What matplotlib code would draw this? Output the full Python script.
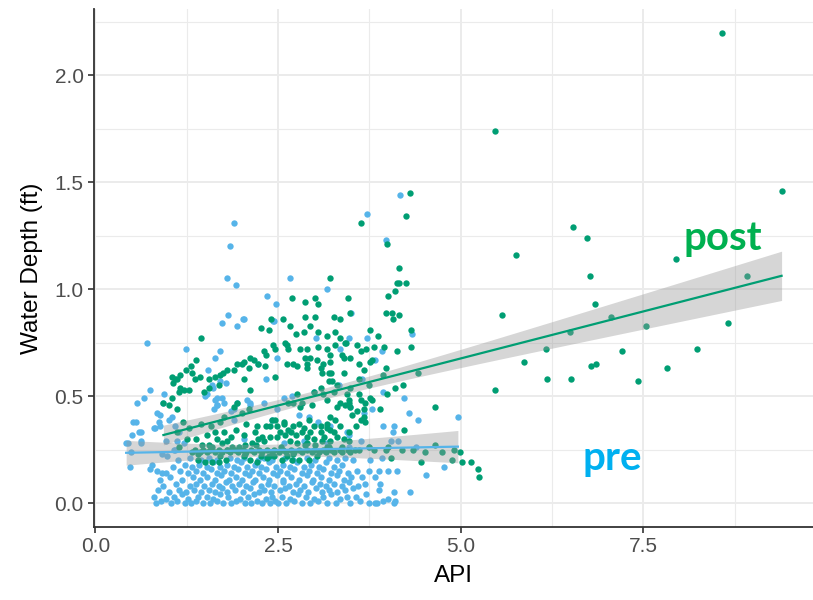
import matplotlib
matplotlib.use("Agg")
import matplotlib.pyplot as plt
import numpy as np

plt.rcParams["font.family"] = ["Liberation Sans", "DejaVu Sans"]

# ---- data (API, water depth in ft) ----
pre_low = [
    (0.83, 0.00), (0.90, 0.01), (1.04, 0.00), (1.12, 0.01), (1.22, 0.00), (1.31, 0.00), (1.37, 0.01), (1.47, 0.00),
    (1.57, 0.00), (1.66, 0.01), (1.75, 0.00), (1.86, 0.00), (1.93, 0.01), (2.04, 0.00), (2.13, 0.00), (2.21, 0.01),
    (2.28, 0.00), (2.39, 0.00), (2.46, 0.01), (2.50, 0.00), (2.61, 0.00), (2.72, 0.01), (2.82, 0.00), (2.93, 0.00),
    (3.05, 0.01), (3.17, 0.00), (3.29, 0.00), (3.49, 0.00), (3.62, 0.01),
    (0.80, 0.03), (0.97, 0.02), (1.08, 0.03), (1.18, 0.04), (1.27, 0.02), (1.40, 0.03), (1.52, 0.03), (1.61, 0.02),
    (1.70, 0.04), (1.82, 0.03), (1.98, 0.02), (2.09, 0.03), (2.17, 0.04), (2.33, 0.02), (2.42, 0.03), (2.55, 0.03),
    (2.66, 0.02), (2.77, 0.04), (2.88, 0.03), (2.99, 0.02), (3.12, 0.03), (3.22, 0.04), (3.35, 0.02), (3.44, 0.03),
    (3.56, 0.03), (3.70, 0.04),
    (0.85, 0.06), (1.01, 0.05), (1.15, 0.06), (1.24, 0.05), (1.35, 0.06), (1.45, 0.05), (1.55, 0.06), (1.64, 0.05),
    (1.73, 0.07), (1.80, 0.05), (1.91, 0.06), (2.02, 0.05), (2.11, 0.07), (2.24, 0.05), (2.31, 0.06), (2.40, 0.05),
    (2.52, 0.06), (2.59, 0.07), (2.70, 0.05), (2.80, 0.06), (2.91, 0.05), (3.02, 0.07), (3.10, 0.05), (3.20, 0.06),
    (3.31, 0.05), (3.41, 0.06), (3.52, 0.07),
    (0.93, 0.08), (1.10, 0.09), (1.29, 0.08), (1.38, 0.09), (1.49, 0.08), (1.60, 0.09), (1.69, 0.08), (1.78, 0.10),
    (1.87, 0.08), (1.96, 0.09), (2.06, 0.08), (2.15, 0.10), (2.27, 0.08), (2.36, 0.09), (2.44, 0.08), (2.56, 0.10),
    (2.65, 0.08), (2.75, 0.09), (2.85, 0.08), (2.96, 0.10), (3.07, 0.09), (3.15, 0.08), (3.26, 0.09), (3.37, 0.08),
    (3.47, 0.10), (3.59, 0.08),
    (0.88, 0.11), (1.02, 0.12), (1.19, 0.11), (1.33, 0.12), (1.43, 0.11), (1.53, 0.12), (1.63, 0.11), (1.72, 0.13),
    (1.83, 0.11), (1.93, 0.12), (2.00, 0.11), (2.10, 0.13), (2.19, 0.11), (2.29, 0.12), (2.38, 0.11), (2.48, 0.13),
    (2.57, 0.11), (2.68, 0.12), (2.78, 0.11), (2.89, 0.13), (2.98, 0.11), (3.09, 0.12), (3.19, 0.11), (3.30, 0.13),
    (3.40, 0.11), (3.50, 0.12),
    (0.97, 0.14), (1.16, 0.15), (1.27, 0.14), (1.38, 0.15), (1.47, 0.14), (1.58, 0.16), (1.67, 0.14), (1.76, 0.15),
    (1.85, 0.14), (1.95, 0.16), (2.05, 0.14), (2.14, 0.15), (2.24, 0.14), (2.33, 0.16), (2.43, 0.14), (2.53, 0.15),
    (2.62, 0.14), (2.72, 0.16), (2.82, 0.14), (2.92, 0.15), (3.03, 0.14), (3.12, 0.16), (3.23, 0.14), (3.33, 0.15),
    (3.45, 0.14),
    (1.06, 0.17), (1.22, 0.18), (1.32, 0.17), (1.42, 0.18), (1.52, 0.17), (1.61, 0.19), (1.71, 0.17), (1.80, 0.18),
    (1.90, 0.17), (1.99, 0.19), (2.08, 0.17), (2.18, 0.18), (2.27, 0.17), (2.37, 0.19), (2.47, 0.17), (2.56, 0.18),
    (2.66, 0.17), (2.76, 0.19), (2.86, 0.17), (2.95, 0.18), (3.06, 0.17), (3.16, 0.19), (3.26, 0.17), (3.38, 0.18),
    (1.13, 0.20), (1.29, 0.21), (1.45, 0.20), (1.56, 0.21), (1.66, 0.20), (1.84, 0.21), (1.94, 0.20), (2.03, 0.21),
    (2.22, 0.20), (2.31, 0.21), (2.41, 0.20), (2.60, 0.21), (2.70, 0.20), (2.89, 0.21), (3.00, 0.20), (3.20, 0.21),
    (3.30, 0.20), (3.42, 0.21), (3.52, 0.20),
    (3.76, 0.20), (3.92, 0.21), (3.58, 0.15), (3.65, 0.12), (3.69, 0.09), (3.74, 0.15), (3.88, 0.15), (3.90, 0.09),
    (3.88, 0.06), (4.01, 0.15), (4.13, 0.15), (3.83, 0.12), (4.31, 0.05), (4.09, 0.05), (4.01, 0.02), (3.94, 0.01),
    (3.83, 0.00), (3.74, 0.00), (4.09, 0.00), (3.85, 0.00), (4.10, 0.01),
]

pre_mid = [
    (0.75, 0.53), (0.57, 0.47), (0.67, 0.49), (0.94, 0.51), (0.93, 0.47), (0.52, 0.38), (0.50, 0.32), (0.59, 0.33),
    (0.62, 0.29), (0.42, 0.28), (0.82, 0.35), (0.89, 0.41), (0.88, 0.36), (1.00, 0.39), (1.05, 0.40),
    (1.60, 0.55), (1.64, 0.48), (1.67, 0.46), (1.73, 0.49), (1.76, 0.47), (1.53, 0.51), (1.78, 0.56), (1.85, 0.43),
    (1.89, 0.44), (1.94, 0.47), (1.89, 0.39), (2.08, 0.48), (2.12, 0.47), (2.03, 0.30), (2.42, 0.39), (2.49, 0.44),
    (2.58, 0.49), (0.48, 0.24), (0.47, 0.17), (0.91, 0.23), (1.07, 0.25), (0.98, 0.22), (0.75, 0.16), (0.84, 0.15),
    (0.91, 0.14), (0.80, 0.35), (1.09, 0.36), (1.14, 0.33), (0.62, 0.28), (0.96, 0.29), (1.12, 0.29), (1.21, 0.28),
    (1.09, 0.25), (0.78, 0.18), (1.66, 0.46), (1.62, 0.44), (2.12, 0.46), (2.30, 0.47), (2.78, 0.41), (2.58, 0.28),
    (3.17, 0.28), (3.47, 0.32), (3.49, 0.45), (1.50, 0.50), (1.66, 0.49),
    (0.84, 0.42), (0.87, 0.38), (0.55, 0.38), (0.62, 0.33), (0.44, 0.28),
    (3.79, 0.44), (4.29, 0.42), (4.42, 0.39), (4.96, 0.40), (3.94, 0.36), (4.07, 0.33), (4.14, 0.29), (3.63, 0.29),
    (3.74, 0.26), (4.04, 0.29), (4.38, 0.26), (4.77, 0.17), (4.53, 0.13), (3.94, 0.52), (4.22, 0.49),
    (2.99, 0.52), (3.67, 0.42), (3.05, 0.38), (4.08, 0.36), (3.21, 0.36), (2.85, 0.29), (3.44, 0.33), (2.92, 0.40),
    (3.47, 0.26), (3.35, 0.25),
]

pre_high = [
    (1.90, 1.31), (1.84, 1.20), (1.80, 1.05), (1.92, 1.02), (2.66, 1.05), (2.35, 0.97), (2.47, 0.93), (1.82, 0.88),
    (2.02, 0.86), (1.73, 0.84), (1.94, 0.83), (2.43, 0.85), (0.71, 0.75), (1.24, 0.72), (1.71, 0.71), (1.63, 0.68),
    (3.17, 1.00), (4.17, 1.44), (3.72, 1.35), (3.97, 1.23), (3.50, 0.89), (2.03, 0.86), (2.45, 0.85), (3.02, 0.77),
    (3.47, 0.77), (3.35, 0.72), (3.72, 0.77), (4.33, 0.79), (2.49, 0.68), (2.23, 0.65), (2.33, 0.58), (3.92, 0.71),
    (3.83, 0.67), (3.65, 0.58), (1.54, 0.62), (1.71, 0.57), (1.61, 0.54), (3.33, 0.55), (2.69, 0.50),
]

post_upper = [
    (1.45, 0.77), (2.40, 0.86), (2.57, 0.86), (2.66, 0.83), (2.27, 0.82), (2.37, 0.81), (2.43, 0.74), (2.59, 0.75),
    (2.62, 0.74), (4.31, 1.45), (3.63, 1.31), (4.25, 1.34), (3.99, 1.21), (4.16, 1.10), (4.12, 1.03), (4.16, 1.03),
    (4.25, 1.03), (3.21, 1.05), (4.10, 0.99), (4.00, 0.97), (2.69, 0.96), (2.87, 0.94), (3.00, 0.96), (3.04, 0.93),
    (3.46, 0.96), (3.97, 0.89), (4.06, 0.89), (4.07, 0.86), (4.16, 0.88), (2.87, 0.87), (3.01, 0.87), (3.26, 0.87),
    (3.34, 0.86), (3.49, 0.89), (2.94, 0.83), (2.74, 0.79), (2.85, 0.80), (3.05, 0.80), (3.17, 0.78),
    (3.28, 0.80), (3.34, 0.77), (3.76, 0.81), (3.87, 0.78), (3.58, 0.74), (3.43, 0.75), (2.80, 0.72), (2.90, 0.72),
    (3.05, 0.73), (3.17, 0.72), (3.28, 0.74), (3.81, 0.73), (3.95, 0.73), (4.32, 0.81), (4.32, 0.73),
    (2.64, 0.72), (3.40, 0.68), (3.49, 0.68), (3.21, 0.69), (2.30, 0.71),
    (2.46, 0.72), (2.34, 0.69), (2.12, 0.68), (2.17, 0.67), (2.03, 0.66), (1.94, 0.65), (2.10, 0.63), (2.23, 0.65),
    (2.62, 0.65), (2.71, 0.65), (2.76, 0.64), (2.89, 0.65), (2.94, 0.68), (3.03, 0.67), (3.08, 0.63), (3.22, 0.61),
    (3.10, 0.61), (2.90, 0.63), (1.89, 0.62), (2.03, 0.58), (2.46, 0.59), (3.24, 0.57), (2.11, 0.53), (3.70, 0.72),
    (3.64, 0.71), (4.12, 0.71), (3.60, 0.65), (3.76, 0.66), (3.79, 0.67), (3.97, 0.63), (3.67, 0.62), (3.94, 0.60),
    (4.42, 0.61), (3.60, 0.58), (3.74, 0.55), (4.10, 0.54), (4.21, 0.55), (3.99, 0.51), (3.76, 0.49),
    (1.38, 0.67), (1.31, 0.64), (1.24, 0.62), (1.05, 0.59), (1.09, 0.58), (1.16, 0.60), (1.12, 0.58), (1.06, 0.56),
    (1.16, 0.54), (1.21, 0.53), (1.14, 0.52), (1.28, 0.53), (1.36, 0.58), (1.43, 0.59), (1.56, 0.58), (1.64, 0.59),
    (1.71, 0.60), (1.80, 0.62), (1.55, 0.54), (1.48, 0.52), (1.05, 0.49), (2.01, 0.65),
    (1.75, 0.61), (1.32, 0.61), (1.69, 0.55), (2.32, 0.64),
    (0.93, 0.47), (1.00, 0.46), (1.11, 0.44), (3.42, 0.75),
    (2.87, 0.68), (3.12, 0.65), (3.19, 0.61), (3.21, 0.66), (3.37, 0.69),
    (3.40, 0.61), (3.49, 0.54), (3.31, 0.55), (3.19, 0.57), (3.08, 0.54), (3.26, 0.52),
    (3.12, 0.51), (2.99, 0.52), (2.76, 0.51), (2.71, 0.47), (2.83, 0.47), (2.64, 0.47), (3.44, 0.51), (3.47, 0.48),
    (3.60, 0.51),
]

post_lower = [
    (2.80, 0.45), (2.96, 0.46), (3.17, 0.48), (3.35, 0.47), (3.49, 0.45), (3.63, 0.48), (3.67, 0.44),
    (3.90, 0.44), (4.65, 0.45), (3.69, 0.47), (3.79, 0.48), (3.58, 0.43), (3.67, 0.40), (3.69, 0.38), (3.56, 0.36),
    (4.22, 0.34), (3.63, 0.39), (3.51, 0.41), (3.35, 0.36), (3.26, 0.33), (3.17, 0.35), (3.08, 0.33),
    (2.94, 0.33), (2.67, 0.33), (1.76, 0.40), (1.94, 0.47), (1.92, 0.34), (1.80, 0.29), (2.03, 0.32), (2.28, 0.31),
    (2.39, 0.36), (2.46, 0.39), (2.58, 0.37), (2.60, 0.32), (1.64, 0.33),
    (1.76, 0.33), (1.46, 0.27), (1.59, 0.26), (1.73, 0.28), (1.80, 0.25), (1.50, 0.19), (1.60, 0.19), (1.69, 0.19),
    (1.89, 0.45), (2.01, 0.42), (2.10, 0.44), (2.21, 0.36), (2.33, 0.36), (2.42, 0.39), (2.49, 0.36), (2.58, 0.38),
    (2.64, 0.34), (2.71, 0.36), (2.78, 0.37), (2.85, 0.35), (2.92, 0.39), (2.99, 0.36), (3.08, 0.36), (3.17, 0.37),
    (3.21, 0.40), (3.28, 0.39), (3.31, 0.45), (3.42, 0.46), (3.47, 0.47), (3.21, 0.34), (3.47, 0.33),
    (2.83, 0.33), (2.90, 0.31), (2.99, 0.30), (2.74, 0.32), (2.53, 0.33), (2.39, 0.31), (2.30, 0.29), (2.23, 0.30),
    (2.14, 0.28), (2.05, 0.27), (1.96, 0.26), (2.76, 0.28), (2.90, 0.28), (3.01, 0.27), (3.10, 0.29), (3.21, 0.29),
    (3.31, 0.31), (3.40, 0.30), (3.47, 0.29), (3.17, 0.26), (3.37, 0.26), (2.62, 0.22), (2.69, 0.20), (2.78, 0.20),
    (2.92, 0.20), (2.44, 0.22), (2.35, 0.21), (2.12, 0.20), (2.03, 0.22), (2.26, 0.22), (2.55, 0.20),
    (4.04, 0.21), (4.45, 0.19), (4.88, 0.20), (5.02, 0.19), (5.14, 0.19), (5.24, 0.16), (5.25, 0.12),
    (1.38, 0.30), (1.52, 0.32), (1.67, 0.30), (1.85, 0.31), (2.18, 0.33), (2.49, 0.31),
    (2.66, 0.29), (3.13, 0.31), (1.28, 0.35), (1.44, 0.37), (1.58, 0.36), (1.71, 0.38), (2.06, 0.37),
    (1.12, 0.33), (1.20, 0.38), (1.25, 0.30), (1.15, 0.26), (1.41, 0.20), (1.78, 0.20), (2.21, 0.19),
]

# the thick band of post readings sitting at about 0.25 ft
post_strip = [
    (1.32, 0.24), (1.36, 0.25), (1.43, 0.24), (1.47, 0.25), (1.53, 0.24), (1.57, 0.25), (1.64, 0.24), (1.69, 0.25),
    (1.73, 0.24), (1.80, 0.25), (1.84, 0.24), (1.91, 0.25), (1.95, 0.24), (2.02, 0.25), (2.06, 0.24), (2.13, 0.25),
    (2.17, 0.24), (2.24, 0.25), (2.28, 0.24), (2.35, 0.25), (2.41, 0.24), (2.44, 0.25), (2.51, 0.24), (2.57, 0.25),
    (2.61, 0.24), (2.68, 0.25), (2.72, 0.24), (2.79, 0.25), (2.83, 0.24), (2.90, 0.25), (2.96, 0.24), (2.99, 0.25),
    (3.06, 0.24), (3.12, 0.25), (3.15, 0.24), (3.23, 0.25), (3.27, 0.24), (3.34, 0.25), (3.38, 0.24), (3.45, 0.25),
    (3.49, 0.24), (3.55, 0.25),
    (1.40, 0.23), (1.55, 0.27), (1.71, 0.22), (1.87, 0.26), (2.04, 0.23), (2.20, 0.27), (2.37, 0.22), (2.54, 0.26),
    (2.70, 0.23), (2.87, 0.27), (3.03, 0.22), (3.20, 0.26),
    (3.60, 0.25), (3.74, 0.26), (3.81, 0.25), (3.97, 0.25), (4.01, 0.26), (4.20, 0.25), (4.35, 0.25), (4.51, 0.24),
    (4.65, 0.27), (4.74, 0.24), (4.90, 0.25), (4.99, 0.24),
]

post_far = [
    (8.57, 2.20), (5.47, 1.74), (9.39, 1.46), (6.53, 1.29), (6.73, 1.24), (5.76, 1.16), (7.94, 1.14), (6.77, 1.06),
    (8.92, 1.06), (6.83, 0.93), (5.57, 0.88), (7.05, 0.87), (7.53, 0.83), (8.66, 0.84), (6.49, 0.80), (6.17, 0.72),
    (7.21, 0.71), (8.23, 0.72), (5.86, 0.66), (6.85, 0.65), (6.78, 0.64), (7.82, 0.63), (6.18, 0.58), (6.51, 0.58),
    (7.43, 0.57), (5.47, 0.53),
]

pre = np.array(pre_low + pre_mid + pre_high)
post = np.array(post_upper + post_lower + post_strip + post_far)

pre_col = "#56B4E9"
post_col = "#009E73"


def lm_band(x, y, ax, col):
    # straight-line fit with 95% confidence band, like geom_smooth(method="lm")
    n = len(x)
    b, a = np.polyfit(x, y, 1)
    res = y - (a + b * x)
    s = np.sqrt(np.sum(res ** 2) / (n - 2))
    xs = np.linspace(x.min(), x.max(), 80)
    fit = a + b * xs
    se = s * np.sqrt(1.0 / n + (xs - x.mean()) ** 2 / np.sum((x - x.mean()) ** 2))
    ax.fill_between(xs, fit - 1.96 * se, fit + 1.96 * se, color="#999999", alpha=0.4, lw=0, zorder=4)
    ax.plot(xs, fit, color=col, lw=1.6, zorder=5)


fig = plt.figure(figsize=(8.13, 6.0), dpi=100)
ax = fig.add_axes([94 / 813, 73 / 600, 719 / 813, 518 / 600])

ax.scatter(pre[:, 0], pre[:, 1], s=21, color=pre_col, lw=0, zorder=2)
ax.scatter(post[:, 0], post[:, 1], s=21, color=post_col, lw=0, zorder=3)
lm_band(pre[:, 0], pre[:, 1], ax, pre_col)
lm_band(post[:, 0], post[:, 1], ax, post_col)

ax.set_xlim(-0.02, 9.82)
ax.set_ylim(-0.112, 2.31)
ax.set_xticks([0, 2.5, 5, 7.5])
ax.set_xticklabels(["0.0", "2.5", "5.0", "7.5"])
ax.set_yticks([0, 0.5, 1.0, 1.5, 2.0])
ax.set_yticklabels(["0.0", "0.5", "1.0", "1.5", "2.0"])
ax.set_xticks([1.25, 3.75, 6.25, 8.75], minor=True)
ax.set_yticks([0.25, 0.75, 1.25, 1.75, 2.25], minor=True)
ax.grid(True, which="major", color="#EBEBEB", lw=1.4, zorder=0)
ax.grid(True, which="minor", color="#EBEBEB", lw=0.8, zorder=0)
ax.set_axisbelow(True)

for side in ["top", "right"]:
    ax.spines[side].set_visible(False)
for side in ["left", "bottom"]:
    ax.spines[side].set_color("#333333")
    ax.spines[side].set_linewidth(1.3)
ax.tick_params(which="major", length=4, width=1.2, color="#333333", labelcolor="#4D4D4D", labelsize=15)
ax.tick_params(which="minor", length=0)

ax.set_xlabel("API", fontsize=17.5, color="black", labelpad=6)
ax.set_ylabel("Water Depth (ft)", fontsize=17.5, color="black", labelpad=8)

ax.text(8.59, 1.182, "post", color="#00B050", fontsize=29, fontweight="bold", family="Lato",
        ha="center", va="baseline", zorder=6)
ax.text(7.07, 0.154, "pre", color="#00B0F0", fontsize=29, fontweight="bold", family="Lato",
        ha="center", va="baseline", zorder=6)

fig.savefig("out.png", dpi=100, facecolor="white")
